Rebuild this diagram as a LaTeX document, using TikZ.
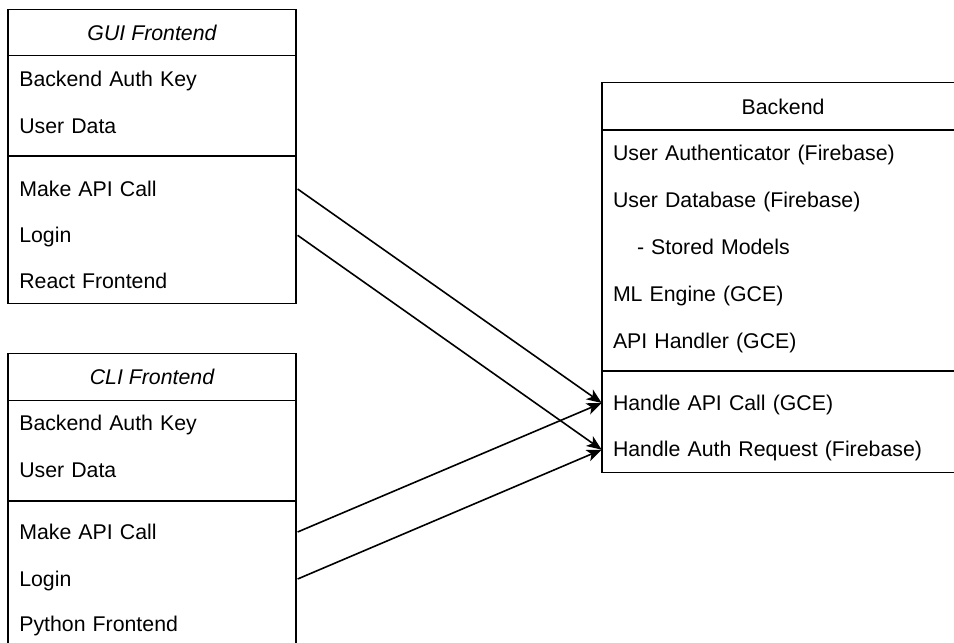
\documentclass[tikz,border=0pt]{standalone}
\usepackage{fontspec}
\setmainfont{Liberation Sans}
\usetikzlibrary{arrows.meta}
\begin{document}
\begin{tikzpicture}[x=1pt,y=-1pt,line width=1.6pt,
  txt/.style={inner xsep=10.5pt,inner ysep=0pt,minimum height=40pt,text height=16pt,text depth=2pt,font=\fontsize{21.3}{25}\selectfont},
  frow/.style={txt,anchor=west,text width=267pt,align=left},
  brow/.style={txt,anchor=west,text width=341pt,align=left},
  ttl/.style={txt,anchor=center},
  arr/.style={-{Stealth[length=15pt,width=12pt,inset=4pt]},line width=1.6pt}]
\useasboundingbox (0,0) rectangle (954,643);
\clip (0,0) rectangle (954,643);
% GUI Frontend box
\draw (8,9.3) rectangle (296,303.3);
\draw (8,55.3) -- (296,55.3);
\draw (8,156) -- (296,156);
\node[ttl] (gtitle) at (152,33) {\itshape GUI Frontend};
\node[frow] (gkey) at (8,79.7) {Backend Auth Key};
\node[frow] (gdata) at (8,126.3) {User Data};
\node[frow] (gmake) at (8,189) {Make API Call};
\node[frow] (glogin) at (8,235.3) {Login};
\node[frow] (greact) at (8,281.7) {React Frontend};
% CLI Frontend box
\draw (8,353.3) rectangle (296,660);
\draw (8,400.3) -- (296,400.3);
\draw (8,500.7) -- (296,500.7);
\node[ttl] (ctitle) at (152,377.3) {\itshape CLI Frontend};
\node[frow] (ckey) at (8,423.7) {Backend Auth Key};
\node[frow] (cdata) at (8,470.7) {User Data};
\node[frow] (cmake) at (8,532) {Make API Call};
\node[frow] (clogin) at (8,579) {Login};
\node[frow] (cpython) at (8,624.7) {Python Frontend};
% Backend box
\draw (601.7,82.3) rectangle (964,472.3);
\draw (601.7,130) -- (964,130);
\draw (601.7,371) -- (964,371);
\node[ttl] (btitle) at (783,107.3) {Backend};
\node[brow] (bauth) at (601.7,153.7) {User Authenticator (Firebase)};
\node[brow] (bdb) at (601.7,200.3) {User Database (Firebase)};
\node[brow] (bstored) at (601.7,247.3) {\hspace*{24pt}- Stored Models};
\node[brow] (bml) at (601.7,294.3) {ML Engine (GCE)};
\node[brow] (bhandler) at (601.7,341.3) {API Handler (GCE)};
\node[brow] (bapi) at (601.7,403) {Handle API Call (GCE)};
\node[brow] (bauthreq) at (601.7,449.7) {Handle Auth Request (Firebase)};
% connectors
\draw[arr] (gmake.east) -- (bapi.west);
\draw[arr] (glogin.east) -- (bauthreq.west);
\draw[arr] (cmake.east) -- (bapi.west);
\draw[arr] (clogin.east) -- (bauthreq.west);
\end{tikzpicture}
\end{document}
